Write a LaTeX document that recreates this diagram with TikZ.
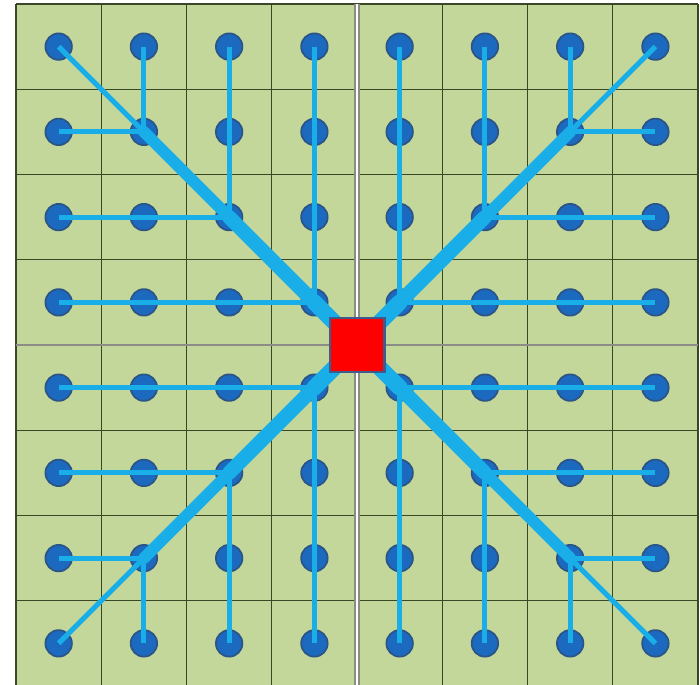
\documentclass[tikz,border=0pt]{standalone}
\usepackage{xcolor}
\definecolor{cCell}{HTML}{C4D79B}
\definecolor{cGrid}{HTML}{3A4726}
\definecolor{cDiv}{HTML}{8C8C86}
\definecolor{cDot}{HTML}{1C6AC0}
\definecolor{cDotRim}{HTML}{2A5586}
\definecolor{cFlow}{HTML}{1AAEE8}
\definecolor{cSink}{HTML}{FF0000}
\definecolor{cSinkRim}{HTML}{3F5B8C}
\usepackage{tikz}
\usetikzlibrary{positioning}

\begin{document}
\begin{tikzpicture}[
  dot/.style={circle,fill=cDot,draw=cDotRim,line width=0.6pt,minimum size=0.31cm,inner sep=0pt},
  sink/.style={rectangle,fill=cSink,draw=cSinkRim,line width=0.8pt,minimum size=0.64cm,inner sep=0pt},
  e/.style={cFlow,line width=1.7pt},
  trunk/.style={cFlow,line cap=round},
  gridline/.style={cGrid,line width=0.45pt},
  divider/.style={cDiv,line width=0.9pt}]

\useasboundingbox (-4.188,-3.988) rectangle (4.023,4.047);

% --- field of cells ---
\fill[cCell] (-4,-4) rectangle (4,4);
\draw[gridline] (-4,-4) grid (4,4);
\draw[divider] (-4,0) -- (4,0);
\draw[cDiv,line width=0.5pt,double=white,double distance=0.7pt] (0,-4) -- (0,4);

% --- outlet ---
\coordinate (hub) at (0,0);

% --- sensor dots, four quadrants ---
\foreach \q/\sx/\sy in {tl/-1/1, tr/1/1, bl/-1/-1, br/1/-1}{
  \foreach \i in {1,...,4}{
    \foreach \j in {1,...,4}{
      \node[dot] (\q\i\j) at ({\sx*(\i-0.5)},{\sy*(\j-0.5)}) {};
    }
  }
}

% --- drains: rows and columns feed the diagonal ---
\foreach \q in {tl,tr,bl,br}{
  \foreach \k in {1,2,3}{
    \draw[e] (\q4\k.center) -- (\q\k\k.center);
    \draw[e] (\q\k4.center) -- (\q\k\k.center);
  }
  \draw[e] (\q44.center) -- (\q33.center);
  \draw[trunk,line width=3.9pt] (\q33.center) -- (\q22.center);
  \draw[trunk,line width=4.8pt] (\q22.center) -- (\q11.center);
  \draw[trunk,line width=5.4pt] (\q11.center) -- (hub);
}

\node[sink] (sink) at (hub) {};
\end{tikzpicture}
\end{document}
